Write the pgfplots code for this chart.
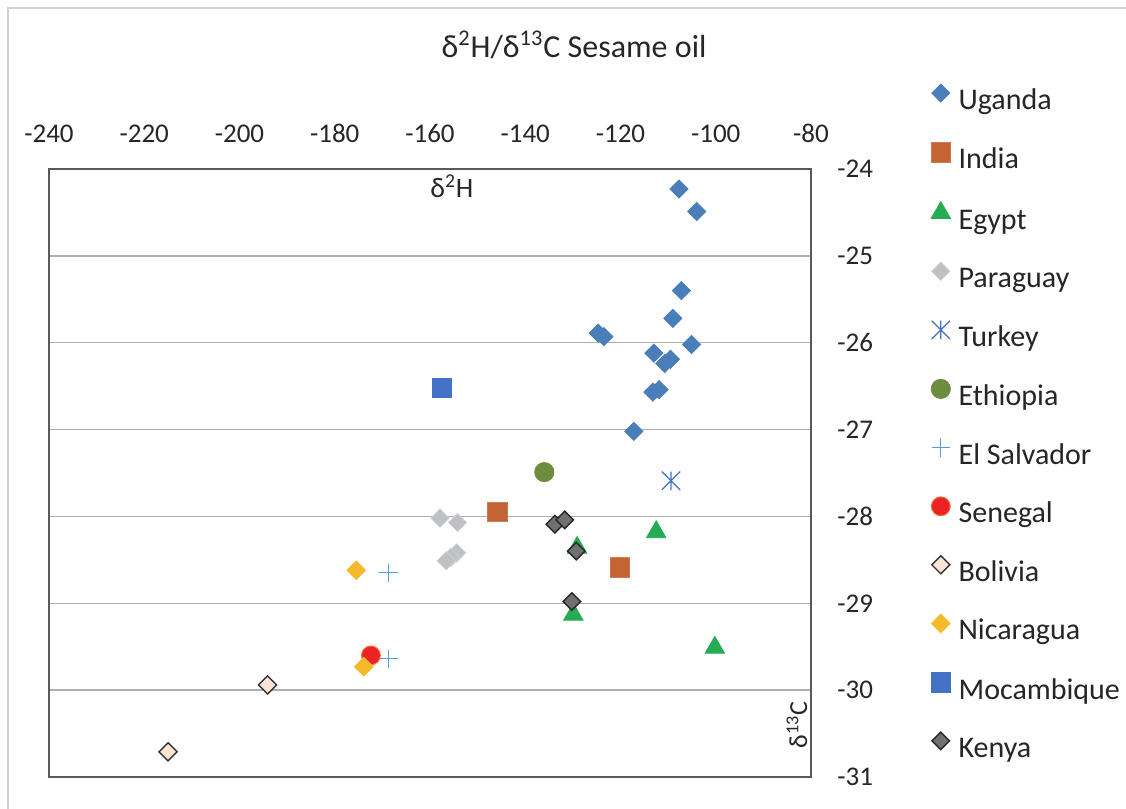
\documentclass[border=0pt]{standalone}
\usepackage{fontspec}
\setmainfont{Carlito}
\usepackage{pgfplots}
\pgfplotsset{compat=1.18}

\definecolor{cUganda}{RGB}{74,126,187}
\definecolor{cIndia}{RGB}{195,100,50}
\definecolor{cEgypt}{RGB}{36,172,82}
\definecolor{cParaguay}{RGB}{190,192,196}
\definecolor{cTurkey}{RGB}{68,114,196}
\definecolor{cEthiopia}{RGB}{108,140,62}
\definecolor{cSalvador}{RGB}{91,155,213}
\definecolor{cSenegal}{RGB}{236,34,36}
\definecolor{cSenegalEdge}{RGB}{240,110,50}
\definecolor{cBolivia}{RGB}{251,228,213}
\definecolor{cNicaragua}{RGB}{244,186,44}
\definecolor{cMocambique}{RGB}{68,114,196}
\definecolor{cKenya}{RGB}{112,112,112}
\definecolor{gridgray}{RGB}{175,175,175}
\definecolor{framegray}{RGB}{90,90,90}

\pgfdeclareplotmark{excelstar}{%
  \pgfpathmoveto{\pgfqpoint{-\pgfplotmarksize}{-\pgfplotmarksize}}%
  \pgfpathlineto{\pgfqpoint{\pgfplotmarksize}{\pgfplotmarksize}}%
  \pgfpathmoveto{\pgfqpoint{-\pgfplotmarksize}{\pgfplotmarksize}}%
  \pgfpathlineto{\pgfqpoint{\pgfplotmarksize}{-\pgfplotmarksize}}%
  \pgfpathmoveto{\pgfqpoint{0pt}{-\pgfplotmarksize}}%
  \pgfpathlineto{\pgfqpoint{0pt}{\pgfplotmarksize}}%
  \pgfusepathqstroke}

\begin{document}
\begin{tikzpicture}
\useasboundingbox (0,0) rectangle (563pt,404.5pt);
\fill[white] (0,0) rectangle (563pt,404.5pt);
\draw[gray!35, line width=0.75pt] (4pt,0pt) -- (4pt,400.5pt) -- (563pt,400.5pt);

\begin{axis}[
  at={(24.5pt,16pt)}, anchor=south west,
  scale only axis, width=381pt, height=304pt,
  xmin=-240, xmax=-80, ymin=-31, ymax=-24,
  xtick={-240,-220,...,-80}, ytick={-31,-30,...,-24},
  xticklabel pos=top, yticklabel pos=right,
  major tick length=0pt, tick style={draw=none},
  ymajorgrids, grid style={color=gridgray, line width=0.75pt},
  axis line style={color=framegray, line width=1pt},
  /pgf/number format/assume math mode=true,
  ticklabel style={font=\fontsize{13.5}{16}\selectfont, text=black!85},
  xticklabel style={anchor=base, yshift=13pt, inner sep=0pt},
  yticklabel style={anchor=west, xshift=13pt, inner sep=0pt},
  legend cell align=left,
  legend style={
    at={(axis description cs:1.1575,1.1398)}, anchor=north west,
    draw=none, fill=none, inner sep=0pt, outer sep=0pt,
    font=\fontsize{15}{18}\selectfont, text=black!85,
    row sep=12.95pt,
    nodes={inner xsep=4pt, inner ysep=0pt, text height=11pt, text depth=3.5pt},
  },
  legend image code/.code={\draw[mark repeat=2,mark phase=2,#1] plot coordinates {(0pt,4.5pt) (5pt,4.5pt) (10pt,4.5pt)};},
  clip=false,
]
% Uganda
\addplot[only marks, mark=square*, mark size=3.2pt, mark options={rotate=45, fill=cUganda, draw=cUganda}] coordinates {
(-107.7,-24.23) (-104.0,-24.49) (-107.2,-25.40) (-109.0,-25.72) (-105.1,-26.02)
(-124.7,-25.89) (-123.5,-25.93) (-113.0,-26.12) (-109.5,-26.19) (-110.7,-26.24)
(-113.2,-26.57) (-111.9,-26.54) (-117.2,-27.02)};
\addlegendentry{Uganda}
% India
\addplot[only marks, mark=square*, mark size=4.9pt, mark options={fill=cIndia, draw=cIndia!85!white}] coordinates {
(-145.9,-27.95) (-120.1,-28.59)};
\addlegendentry{India}
% Egypt
\addplot[only marks, mark=triangle*, mark size=5.6pt, mark options={fill=cEgypt, draw=cEgypt}] coordinates {
(-129.1,-28.36) (-112.5,-28.18) (-129.9,-29.13) (-100.2,-29.51)};
\addlegendentry{Egypt}
% Paraguay
\addplot[only marks, mark=square*, mark size=3.2pt, mark options={rotate=45, fill=cParaguay, draw=cParaguay!80!white}] coordinates {
(-157.9,-28.02) (-154.2,-28.07) (-154.4,-28.42) (-155.6,-28.47) (-156.6,-28.51)};
\addlegendentry{Paraguay}
% Turkey
\addplot[only marks, mark=excelstar, mark size=4.6pt, mark options={draw=cTurkey, line width=0.6pt}] coordinates {
(-109.4,-27.59)};
\addlegendentry{Turkey}
% Ethiopia
\addplot[only marks, mark=*, mark size=4.8pt, mark options={fill=cEthiopia, draw=cEthiopia}] coordinates {
(-136.0,-27.49)};
\addlegendentry{Ethiopia}
% El Salvador
\addplot[only marks, mark=+, mark size=4.6pt, mark options={draw=cSalvador, line width=0.6pt}] coordinates {
(-168.7,-28.65) (-168.7,-29.64)};
\addlegendentry{El Salvador}
% Senegal
\addplot[only marks, mark=*, mark size=4.7pt, mark options={fill=cSenegal, draw=cSenegalEdge, line width=0.5pt}] coordinates {
(-172.4,-29.60)};
\addlegendentry{Senegal}
% Bolivia
\addplot[only marks, mark=square*, mark size=3.2pt, mark options={rotate=45, fill=cBolivia, draw=black!80, line width=0.7pt}] coordinates {
(-194.1,-29.94) (-215.0,-30.71)};
\addlegendentry{Bolivia}
% Nicaragua
\addplot[only marks, mark=square*, mark size=3.3pt, mark options={rotate=45, fill=cNicaragua, draw=cNicaragua}] coordinates {
(-175.5,-28.62) (-173.9,-29.73)};
\addlegendentry{Nicaragua}
% Mocambique
\addplot[only marks, mark=square*, mark size=4.9pt, mark options={fill=cMocambique, draw=cMocambique}] coordinates {
(-157.5,-26.52)};
\addlegendentry{Mocambique}
% Kenya
\addplot[only marks, mark=square*, mark size=3.1pt, mark options={rotate=45, fill=cKenya, draw=black!85, line width=0.7pt}] coordinates {
(-133.8,-28.09) (-131.7,-28.04) (-129.3,-28.40) (-130.2,-28.98)};
\addlegendentry{Kenya}
\end{axis}

\node[anchor=base, font=\fontsize{16}{19}\selectfont, text=black!85] at (287pt,375.5pt)
  {δ\textsuperscript{2}H/δ\textsuperscript{13}C Sesame oil};
\node[anchor=base west, inner sep=0pt, font=\fontsize{14}{17}\selectfont, text=black!85] at (215pt,305.5pt)
  {δ\textsuperscript{2}H};
\node[rotate=90, anchor=base, inner sep=0pt, font=\fontsize{13}{16}\selectfont, text=black!85] at (403.5pt,42pt)
  {δ\textsuperscript{13}C};
\end{tikzpicture}
\end{document}
